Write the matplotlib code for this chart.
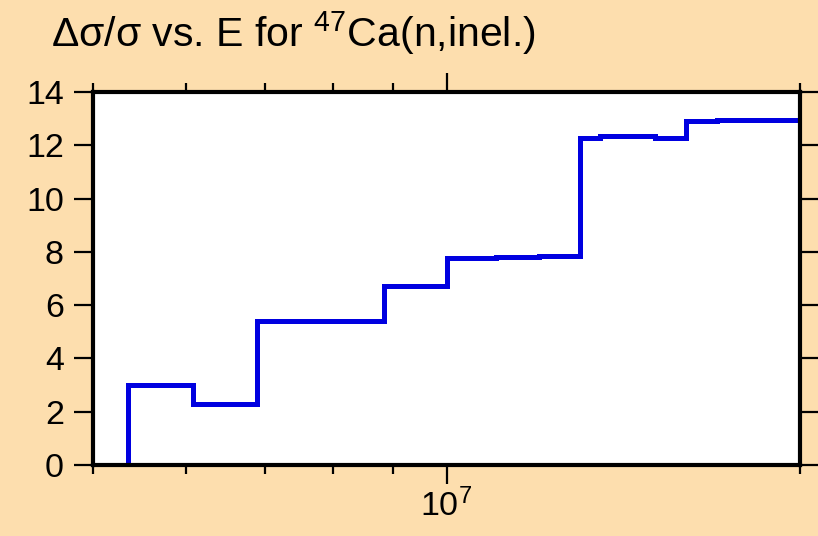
import matplotlib
matplotlib.use("Agg")
from matplotlib import pyplot as plt
from matplotlib.ticker import LogLocator, NullFormatter, MultipleLocator

plt.rcParams['font.family'] = ['Liberation Sans', 'DejaVu Sans']
plt.rcParams['mathtext.fontset'] = 'custom'
plt.rcParams['mathtext.rm'] = 'Liberation Sans'
plt.rcParams['mathtext.it'] = 'Liberation Sans'
plt.rcParams['mathtext.default'] = 'regular'

# energy group edges (eV) and relative uncertainty (%)
edges = [5.35e6, 6.08e6, 6.89e6, 8.84e6, 1.0e7, 1.103e7, 1.20e7,
         1.30e7, 1.352e7, 1.454e7, 1.49e7, 1.506e7, 1.60e7, 1.70e7, 2.0e7]
rel_unc = [3.0, 2.29, 5.42, 6.73, 7.76, 7.81, 7.86,
           12.28, 12.33, 12.36, 12.33, 12.27, 12.92, 12.94]

bg = '#fddeae'
fig = plt.figure(figsize=(8.18, 5.36), dpi=100, facecolor=bg)
ax = fig.add_axes([93 / 818, 1 - 465 / 536, 707 / 818, 373 / 536])
ax.set_facecolor('white')

ax.stairs(rel_unc, edges, baseline=0, color='#0000e0', lw=3.6)

ax.set_xscale('log')
ax.set_xlim(5e6, 2e7)
ax.set_ylim(0, 14)
ax.yaxis.set_major_locator(MultipleLocator(2))
ax.xaxis.set_minor_locator(LogLocator(base=10, subs=range(2, 10)))
ax.xaxis.set_minor_formatter(NullFormatter())

for s in ax.spines.values():
    s.set_linewidth(3)
ax.tick_params(which='major', direction='out', length=14, width=1.6,
               labelsize=24.5, top=True, right=True)
ax.tick_params(axis='y', pad=7)
ax.tick_params(axis='x', pad=3)
ax.tick_params(which='minor', direction='out', length=6.5, width=1.6,
               top=True)

fig.text(51 / 818, 1 - 47 / 536,
         r"Δσ/σ vs. E for $^{47}$Ca(n,inel.)", fontsize=29.5,
         ha='left', va='baseline')

plt.savefig("out.png", facecolor=bg)
